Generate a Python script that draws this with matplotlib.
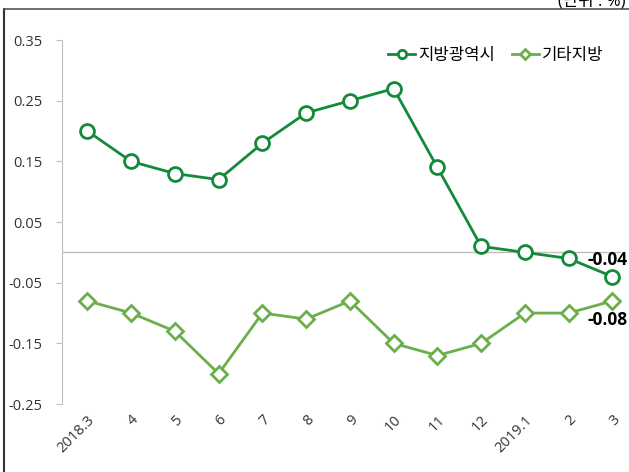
import numpy as np
import matplotlib.pyplot as plt
from matplotlib.lines import Line2D

plt.rcParams['font.family'] = ['Open Sans', 'Noto Sans CJK KR', 'DejaVu Sans']

months = ['2018.3', '4', '5', '6', '7', '8', '9', '10', '11', '12', '2019.1', '2', '3']
metro = [0.20, 0.15, 0.13, 0.12, 0.18, 0.23, 0.25, 0.27, 0.14, 0.01, 0.00, -0.01, -0.04]
other = [-0.08, -0.10, -0.13, -0.20, -0.10, -0.11, -0.08, -0.15, -0.17, -0.15, -0.10, -0.10, -0.08]
yticks = [-0.25, -0.15, -0.05, 0.05, 0.15, 0.25, 0.35]

dark = '#138A3A'
light = '#6AAF4C'

fig = plt.figure(figsize=(6.29, 4.72), dpi=100)
ax = fig.add_axes([0.0986, 0.144, 0.889, 0.771])

x = np.arange(len(months))
ax.axhline(0, color='#BFBFBF', lw=1, zorder=1)
ax.plot(x, metro, color=dark, lw=2, marker='o', ms=10, mfc='white', mec=dark, mew=2,
        label='지방광역시', zorder=3)
ax.plot(x, other, color=light, lw=2, marker='D', ms=8, mfc='white', mec=light, mew=2,
        label='기타지방', zorder=3)

ax.set_xlim(-0.58, 12.2)
ax.set_ylim(-0.25, 0.35)
ax.set_yticks(yticks)
ax.set_yticklabels(['%.2f' % v for v in yticks], fontsize=10.5, color='#333333')
ax.set_xticks(x)
ax.set_xticklabels(months, rotation=45, ha='right', rotation_mode='anchor',
                   fontsize=10.5, color='#333333')
ax.tick_params(axis='x', length=0, pad=6)
ax.tick_params(axis='y', length=4, color='#BFBFBF', pad=10)
for s in ['top', 'right', 'bottom']:
    ax.spines[s].set_visible(False)
ax.spines['left'].set_color('#BFBFBF')

ax.annotate('-0.04', (x[-1], metro[-1]), xytext=(-18, 12), textcoords='offset points',
            fontsize=12.5, fontweight='bold', color='black', va='center')
ax.annotate('-0.08', (x[-1], other[-1]), xytext=(-18, -14), textcoords='offset points',
            fontsize=12.5, fontweight='bold', color='black', va='center')

ax.legend(loc='upper right', bbox_to_anchor=(0.995, 1.02), ncol=2, frameon=False,
          fontsize=12, handlelength=1.6, columnspacing=1.0, handletextpad=0.2,
          markerscale=0.6)

# outer frame
fig.add_artist(Line2D([4/629, 4/629], [0, 1 - 9/472], color='#333333', lw=1.5))
fig.add_artist(Line2D([4/629, 1], [1 - 9/472, 1 - 9/472], color='#555555', lw=1.2))
fig.text(625/629, 1 - 6/472, '(단위 : %)', ha='right', va='baseline', fontsize=12)

fig.savefig('out.png', dpi=100)
